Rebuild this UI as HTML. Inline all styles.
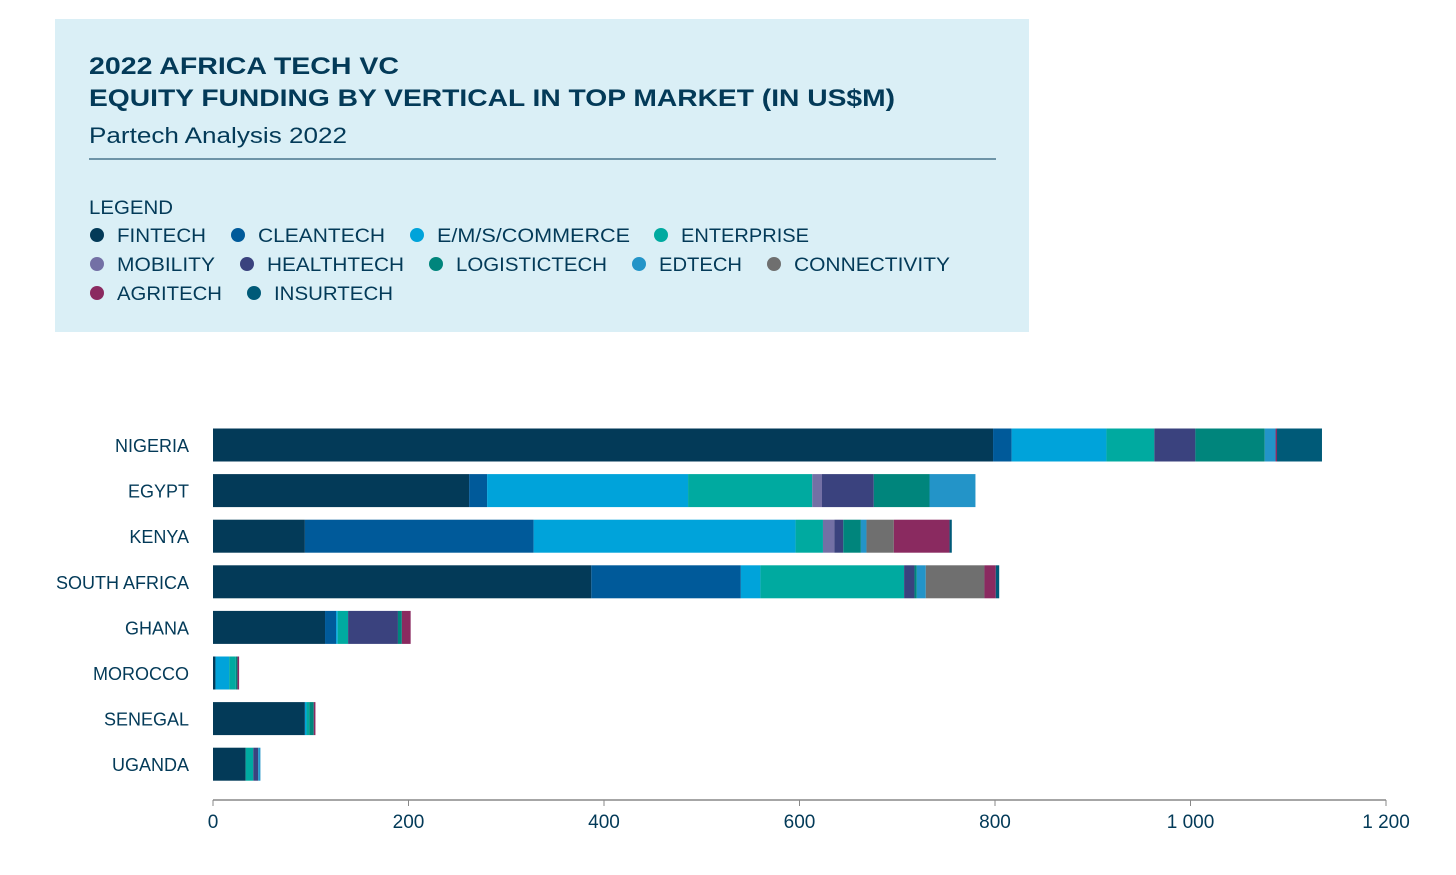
<!DOCTYPE html>
<html><head><meta charset="utf-8"><style>
body{margin:0;background:#fff;font-family:"Liberation Sans",sans-serif;}
svg text{font-family:"Liberation Sans",sans-serif;}
</style></head><body>
<svg id="chart" width="1456" height="870" viewBox="0 0 1456 870" xmlns="http://www.w3.org/2000/svg">
<rect x="55" y="19" width="974" height="313" fill="#daeff6"/>
<text x="89" y="74" font-size="24" font-weight="bold" fill="#033a58" textLength="310" lengthAdjust="spacingAndGlyphs">2022 AFRICA TECH VC</text>
<text x="89" y="106" font-size="24" font-weight="bold" fill="#033a58" textLength="806" lengthAdjust="spacingAndGlyphs">EQUITY FUNDING BY VERTICAL IN TOP MARKET (IN US$M)</text>
<text x="89" y="143" font-size="22" fill="#033a58" textLength="258" lengthAdjust="spacingAndGlyphs">Partech Analysis 2022</text>
<line x1="89" y1="159" x2="996" y2="159" stroke="#033a58" stroke-width="1"/>
<text x="89" y="214" font-size="19" fill="#033a58" textLength="84" lengthAdjust="spacingAndGlyphs">LEGEND</text>
<g id="legend"></g>
<g id="bars"></g>
<g id="axis"></g>
</svg>
<script>
const categories = ["NIGERIA","EGYPT","KENYA","SOUTH AFRICA","GHANA","MOROCCO","SENEGAL","UGANDA"];
const seriesNames = ["FINTECH","CLEANTECH","E/M/S/COMMERCE","ENTERPRISE","MOBILITY","HEALTHTECH","LOGISTICTECH","EDTECH","CONNECTIVITY","AGRITECH","INSURTECH"];
const fintech      = [798, 262, 94, 387, 114.6, 2.5, 94, 33.4];
const cleantech    = [19, 18.4, 234, 153, 11.3, 0, 0, 0];
const ecommerce    = [97, 205.6, 268, 20, 1.7, 14, 1.7, 0];
const enterprise   = [49, 127, 28, 147, 10.6, 6.8, 2.7, 7.8];
const mobility     = [0, 10, 11.6, 0, 0, 0, 0, 0];
const healthtech   = [42, 53, 9.2, 10.6, 51, 0, 0, 5];
const logistictech = [71, 57, 18, 2.4, 4, 1.7, 4.7, 0];
const edtech       = [11, 47, 5.7, 9.2, 0, 0, 0, 2.3];
const connectivity = [0, 0, 28, 60, 0, 0, 0, 0];
const agritech     = [1.5, 0, 57, 11.6, 9, 1.7, 1.7, 0];
const insurtech    = [46, 0, 2.3, 3.5, 0, 0, 0, 0];
const tickValues = [0, 200, 400, 600, 800, 1000, 1200];
const tickLabels = ["0","200","400","600","800","1 000","1 200"];

const series = [fintech,cleantech,ecommerce,enterprise,mobility,healthtech,logistictech,edtech,connectivity,agritech,insurtech];
const colors = ["#033a58","#005a9a","#00a3da","#00aaa0","#7370a5","#3a427e","#00857c","#2394c8","#6f6f6f","#8a2a60","#005a78"];
const legendWidths = [89,127,193,128,98,137,151,83,156,105,119];
const NS="http://www.w3.org/2000/svg";
const x0=213, x1=1386, xMax=1200;
const xs=v=>x0+(x1-x0)*v/xMax;
const yTop=445, step=45.6, bh=33;
const ys=i=>yTop+i*step;
function mk(tag,attrs,parent){const e=document.createElementNS(NS,tag);for(const k in attrs)e.setAttribute(k,attrs[k]);parent.appendChild(e);return e;}
const bars=document.getElementById('bars');
categories.forEach((c,i)=>{
  const t=mk('text',{x:189,y:ys(i)+7,'font-size':18,fill:'#033a58','text-anchor':'end'},bars);
  
  
  t.textContent=c;
  let acc=0;
  series.forEach((s,k)=>{
    const v=s[i]; if(!v) return;
    const r=mk('rect',{x:xs(acc),y:ys(i)-bh/2,width:xs(acc+v)-xs(acc),height:bh,fill:colors[k]},bars);
    
    
    acc+=v;
  });
});
const axis=document.getElementById('axis');
mk('line',{x1:x0,y1:800,x2:x1,y2:800,stroke:'#888','stroke-width':1.5},axis);
tickValues.forEach((v,i)=>{
  mk('line',{x1:xs(v),y1:800,x2:xs(v),y2:806,stroke:'#888','stroke-width':1},axis);
  const t=mk('text',{x:xs(v),y:828,'font-size':19,fill:'#033a58','text-anchor':'middle'},axis);
  
  
  t.textContent=tickLabels[i];
});
const legendPos=[[97,235],[238,235],[417,235],[661,235],[97,264],[247,264],[436,264],[639,264],[774,264],[97,293],[254,293]];
const legend=document.getElementById('legend');
seriesNames.forEach((n,k)=>{
  const g=mk('g',{},legend);
  
  
  const [lx,ly]=legendPos[k];
  mk('circle',{cx:lx,cy:ly,r:7,fill:colors[k]},g);
  const t=mk('text',{x:lx+20,y:ly+7,'font-size':19,fill:'#033a58',textLength:legendWidths[k],lengthAdjust:'spacingAndGlyphs'},g);
  t.textContent=n;
});
</script>
</body></html>
